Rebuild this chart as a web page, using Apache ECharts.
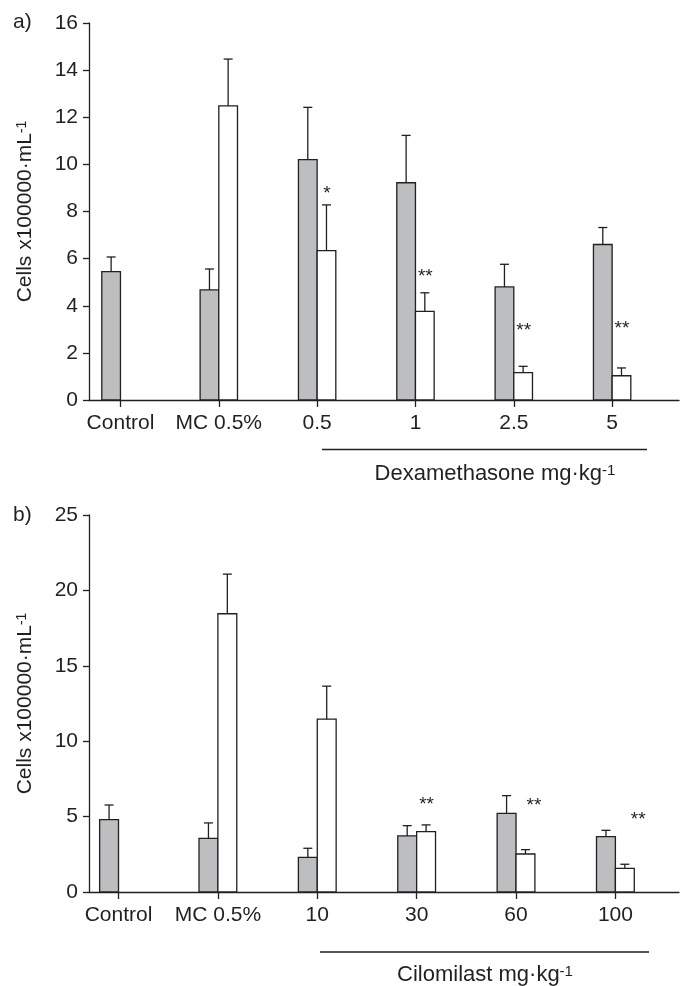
<!DOCTYPE html>
<html>
<head>
<meta charset="utf-8">
<script src="https://cdn.jsdelivr.net/npm/echarts@6/dist/echarts.min.js"></script>
<style>
  html, body { margin: 0; padding: 0; background: #fff; }
  #chart { width: 680px; height: 986px; }
</style>
</head>
<body>
<div id="chart"></div>
<script>
// panel a) dexamethasone
var categoriesA = ['Control', 'MC 0.5%', '0.5', '1', '2.5', '5'];
var greyA = [5.45, 4.67, 10.2, 9.22, 4.8, 6.6];
var greyErrA = [0.62, 0.89, 2.22, 2.01, 0.96, 0.72];
var whiteA = [null, 12.48, 6.34, 3.76, 1.16, 1.03];
var whiteErrA = [null, 1.99, 1.94, 0.79, 0.27, 0.33];
var starsA = ['', '', '*', '**', '**', '**'];
var starYA = [null, null, 8.88, 5.35, 3.06, 3.17];
var starDxA = [0, 0, 0.1, 0.1, 0.1, 0.1];

// panel b) cilomilast
var categoriesB = ['Control', 'MC 0.5%', '10', '30', '60', '100'];
var greyB = [4.8, 3.56, 2.3, 3.72, 5.22, 3.67];
var greyErrB = [0.97, 1.02, 0.6, 0.68, 1.17, 0.42];
var whiteB = [null, 18.45, 11.46, 4.0, 2.52, 1.57];
var whiteErrB = [null, 2.63, 2.19, 0.45, 0.29, 0.27];
var starsB = ['', '', '', '**', '**', '**'];
var starYB = [null, null, null, 5.99, 5.93, 5.0];
var starDxB = [0, 0, 0, 0.1, 0.18, 0.23];

var ink = '#231f20';
var greyFill = '#bdbec0';
var font = 'Liberation Sans';
var BAR_W = 0.19;

function makeRender(grey, greyErr, white, whiteErr, stars, starY, starDx) {
    return function (params, api) {
        var i = params.dataIndex;
        var kids = [];
        var w = api.size([BAR_W, 0])[0];

        function bar(val, err, side, fill) {
            if (val == null) return;
            var p0 = api.coord([i, 0]);
            var p1 = api.coord([i, val]);
            var x = side < 0 ? p0[0] - w : p0[0];
            kids.push({
                type: 'rect',
                shape: { x: x, y: p1[1], width: w, height: p0[1] - p1[1] },
                style: { fill: fill, stroke: ink, lineWidth: 1.3 }
            });
            var cx = x + w / 2;
            var pe = api.coord([i, val + err]);
            kids.push({
                type: 'line',
                shape: { x1: cx, y1: p1[1], x2: cx, y2: pe[1] },
                style: { stroke: ink, lineWidth: 1.3 }
            });
            kids.push({
                type: 'line',
                shape: { x1: cx - 4.5, y1: pe[1], x2: cx + 4.5, y2: pe[1] },
                style: { stroke: ink, lineWidth: 1.3 }
            });
        }

        bar(grey[i], greyErr[i], -1, greyFill);
        bar(white[i], whiteErr[i], 1, '#ffffff');

        if (stars[i]) {
            var ps = api.coord([i + starDx[i], starY[i]]);
            kids.push({
                type: 'text',
                style: {
                    text: stars[i], x: ps[0], y: ps[1] + 3,
                    textAlign: 'center', textVerticalAlign: 'middle',
                    align: 'center', verticalAlign: 'middle',
                    fontSize: 19, fontFamily: font, fill: ink
                }
            });
        }
        return { type: 'group', children: kids };
    };
}

function makeX(idx, cats, min, max) {
    return {
        type: 'value', gridIndex: idx, min: min, max: max,
        splitLine: { show: false },
        axisLine: { onZero: false, lineStyle: { color: ink, width: 1.3 } },
        axisTick: { customValues: [0, 1, 2, 3, 4, 5], length: 7, lineStyle: { color: ink, width: 1.3 } },
        axisLabel: {
            customValues: [0, 1, 2, 3, 4, 5],
            formatter: function (v) { return cats[Math.round(v)]; },
            fontSize: 21, fontFamily: font, color: ink, margin: 13
        }
    };
}

function makeY(idx, max, step) {
    return {
        type: 'value', gridIndex: idx, min: 0, max: max, interval: step,
        splitLine: { show: false },
        axisLine: { show: true, onZero: false, lineStyle: { color: ink, width: 1.3 } },
        axisTick: { show: true, length: 6, lineStyle: { color: ink, width: 1.3 } },
        axisLabel: { fontSize: 21, fontFamily: font, color: ink, margin: 11 },
        name: '{n|Cells x100000·mL}{s|-1}',
        nameLocation: 'middle',
        nameGap: 53,
        nameTextStyle: {
            rich: {
                n: { fontSize: 21, fontFamily: font, color: ink },
                s: { fontSize: 14, fontFamily: font, color: ink, verticalAlign: 'top' }
            }
        }
    };
}

function groupLabel(x, y, txt) {
    return {
        type: 'text', x: x, y: y,
        style: {
            text: '{n|' + txt + '}{s|-1}',
            align: 'center', verticalAlign: 'middle',
            rich: {
                n: { fontSize: 22, fontFamily: font, fill: ink },
                s: { fontSize: 15, fontFamily: font, fill: ink, verticalAlign: 'top' }
            }
        }
    };
}

var chart = echarts.init(document.getElementById('chart'));
chart.setOption({
    animation: false,
    textStyle: { fontFamily: font },
    grid: [
        { left: 89, right: 1, top: 23, height: 377 },
        { left: 89, right: 1, top: 515, height: 377 }
    ],
    xAxis: [
        makeX(0, categoriesA, -0.32, 5.68),
        makeX(1, categoriesB, -0.297, 5.64)
    ],
    yAxis: [makeY(0, 16, 2), makeY(1, 25, 5)],
    series: [
        {
            type: 'custom', xAxisIndex: 0, yAxisIndex: 0,
            data: categoriesA.map(function (c, i) { return [i, greyA[i]]; }),
            renderItem: makeRender(greyA, greyErrA, whiteA, whiteErrA, starsA, starYA, starDxA)
        },
        {
            type: 'custom', xAxisIndex: 1, yAxisIndex: 1,
            data: categoriesB.map(function (c, i) { return [i, greyB[i]]; }),
            renderItem: makeRender(greyB, greyErrB, whiteB, whiteErrB, starsB, starYB, starDxB)
        }
    ],
    graphic: [
        { type: 'text', x: 13, y: 22, style: { text: 'a)', fontSize: 21, fontFamily: font, fill: ink, verticalAlign: 'middle' } },
        { type: 'text', x: 13, y: 515, style: { text: 'b)', fontSize: 21, fontFamily: font, fill: ink, verticalAlign: 'middle' } },
        { type: 'line', shape: { x1: 322, y1: 449.5, x2: 647, y2: 449.5 }, style: { stroke: ink, lineWidth: 1.3 } },
        { type: 'line', shape: { x1: 320, y1: 952, x2: 649, y2: 952 }, style: { stroke: ink, lineWidth: 1.3 } },
        groupLabel(495, 474, 'Dexamethasone mg·kg'),
        groupLabel(485, 975, 'Cilomilast mg·kg')
    ]
});
</script>
</body>
</html>
